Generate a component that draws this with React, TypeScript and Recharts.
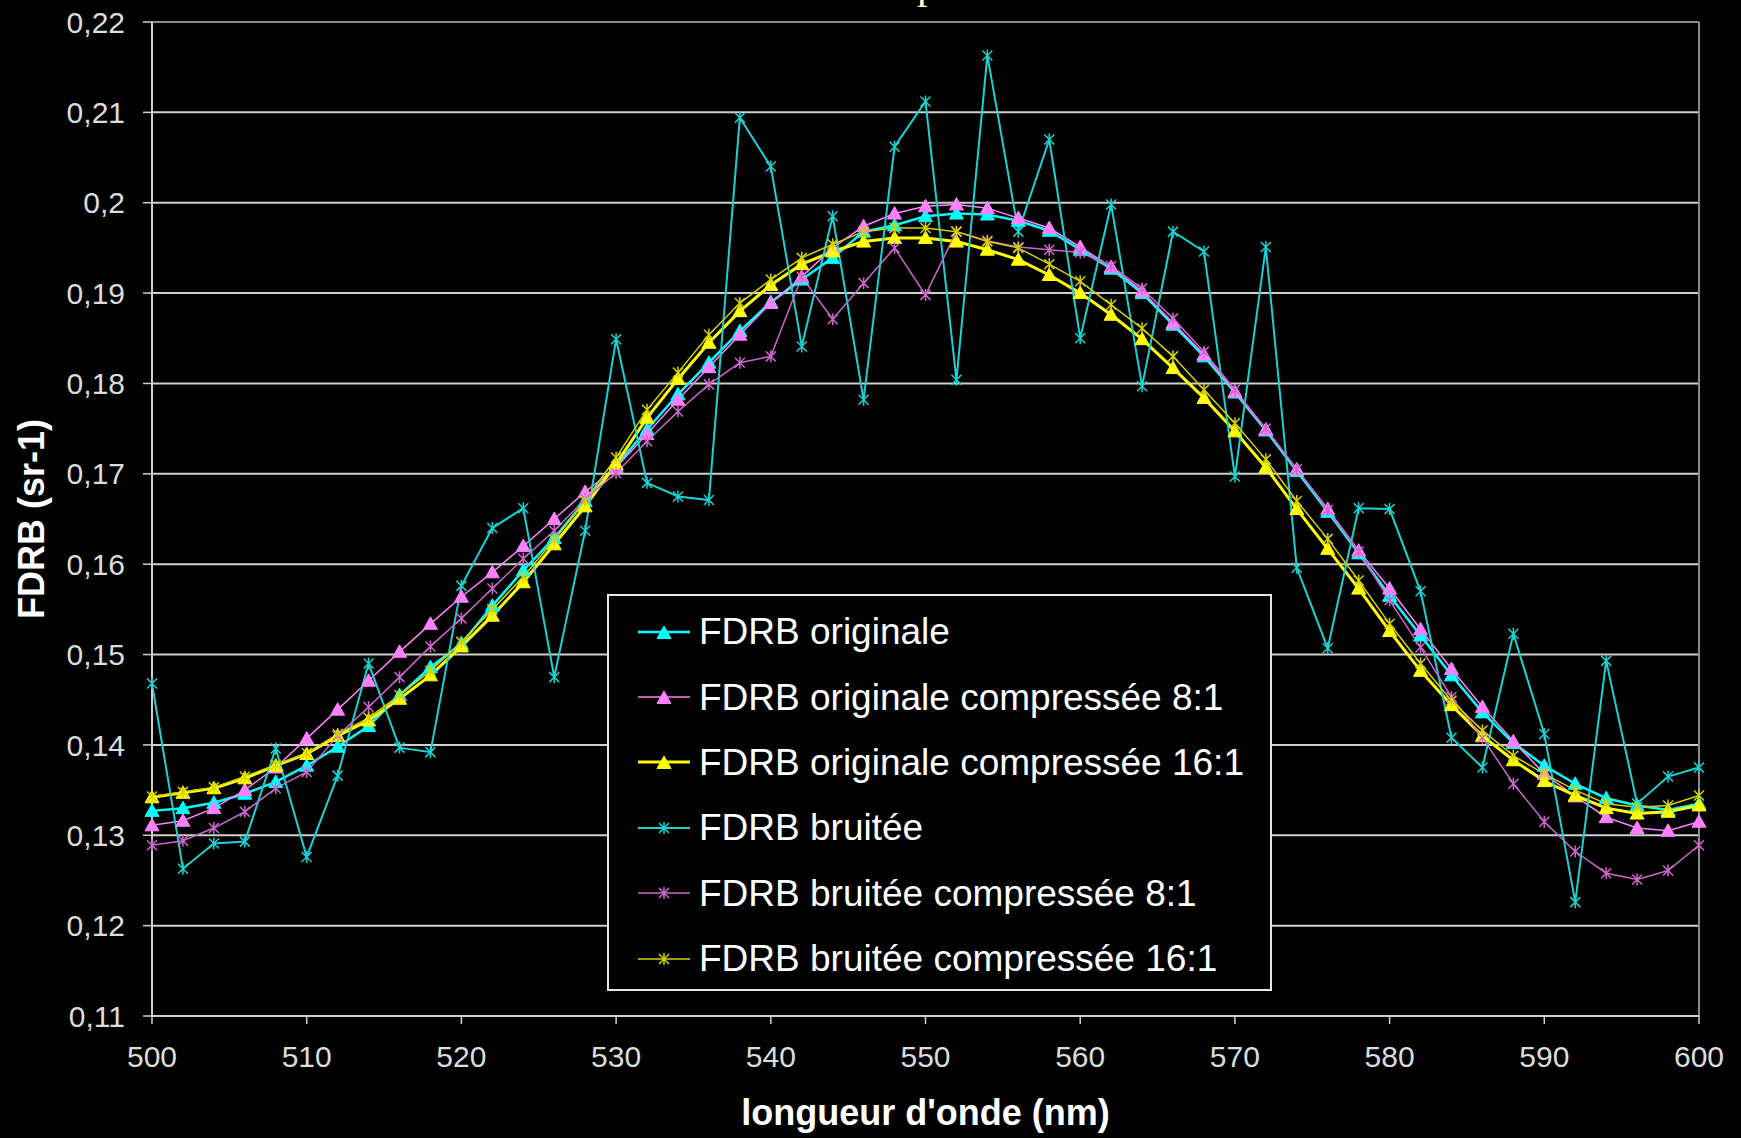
import {
  LineChart,
  Line,
  XAxis,
  YAxis,
  CartesianGrid,
  Legend,
  ReferenceLine,
  Label,
} from "recharts";

/* ===== DATA ===== */
const WAVELENGTH = [
  500, 502, 504, 506, 508, 510, 512, 514, 516, 518, 520, 522, 524, 526, 528,
  530, 532, 534, 536, 538, 540, 542, 544, 546, 548, 550, 552, 554, 556, 558,
  560, 562, 564, 566, 568, 570, 572, 574, 576, 578, 580, 582, 584, 586, 588,
  590, 592, 594, 596, 598, 600,
];

const FDRB_ORIG = [
  0.1327, 0.133, 0.1336, 0.1346, 0.1359, 0.1377, 0.1398, 0.1421, 0.1455, 0.1486,
  0.1512, 0.1554, 0.1593, 0.1629, 0.167, 0.1709, 0.1749, 0.1788, 0.1823, 0.1858,
  0.189, 0.1915, 0.1939, 0.1968, 0.1975, 0.1985, 0.1988, 0.1987, 0.198, 0.1969,
  0.1948, 0.1927, 0.19, 0.1865, 0.183, 0.179, 0.1748, 0.1703, 0.1658, 0.1612,
  0.1565, 0.1521, 0.1477, 0.1436, 0.1402, 0.1377, 0.1357, 0.1341, 0.1333, 0.1328,
  0.1335,
];

const FDRB_ORIG_8 = [
  0.1311, 0.1316, 0.133, 0.135, 0.1375, 0.1407, 0.1439, 0.1471, 0.1503, 0.1534,
  0.1564, 0.1591, 0.162, 0.165, 0.168, 0.1707, 0.1744, 0.1782, 0.1818, 0.1854,
  0.1889, 0.1918, 0.195, 0.1974, 0.1988, 0.1996, 0.1998, 0.1994, 0.1983, 0.1972,
  0.1951, 0.1929, 0.1902, 0.1867, 0.1832, 0.1791, 0.1749, 0.1705, 0.1661, 0.1615,
  0.1573, 0.1528, 0.1484, 0.1442, 0.1404, 0.1368, 0.1343, 0.132, 0.1308, 0.1305,
  0.1315,
];

const FDRB_ORIG_16 = [
  0.1342, 0.1347, 0.1352, 0.1363, 0.1377, 0.139, 0.141, 0.1427, 0.1451, 0.1477,
  0.1509, 0.1543, 0.158, 0.1622, 0.1664, 0.1711, 0.1762, 0.1805, 0.1845, 0.188,
  0.1909, 0.1932, 0.1946, 0.1957, 0.1961, 0.1961, 0.1957, 0.1948, 0.1937, 0.192,
  0.19, 0.1876, 0.1849, 0.1817, 0.1784, 0.1747, 0.1707, 0.1661, 0.1617, 0.1573,
  0.1526, 0.1482, 0.1444, 0.141, 0.1383, 0.136, 0.1344, 0.133, 0.1324, 0.1326,
  0.1333,
];

const FDRB_NOISY = [
  0.1468, 0.1263, 0.1291, 0.1293, 0.1396, 0.1276, 0.1366, 0.149, 0.1397, 0.1392,
  0.1576, 0.164, 0.1662, 0.1475, 0.1637, 0.1849, 0.169, 0.1675, 0.1671, 0.2094,
  0.204, 0.1841, 0.1985, 0.1782, 0.2062, 0.2112, 0.1804, 0.2163, 0.1968, 0.207,
  0.185, 0.1998, 0.1797, 0.1968, 0.1946, 0.1697, 0.1951, 0.1596, 0.1507, 0.1662,
  0.1661, 0.157, 0.1408, 0.1375, 0.1523, 0.1412, 0.1226, 0.1493, 0.1335, 0.1365,
  0.1375,
];

const FDRB_NOISY_8 = [
  0.1289, 0.1294, 0.1308, 0.1326, 0.1352, 0.137, 0.141, 0.1442, 0.1475, 0.1509,
  0.154, 0.1573, 0.1606, 0.1637, 0.1672, 0.1701, 0.1736, 0.1769, 0.1799, 0.1823,
  0.183, 0.1918, 0.1871, 0.1911, 0.195, 0.1898, 0.1968, 0.1958, 0.1951, 0.1948,
  0.1945, 0.193, 0.1905, 0.1872, 0.1835, 0.1793, 0.175, 0.1705, 0.166, 0.1614,
  0.156, 0.1508, 0.1453, 0.1408, 0.1357, 0.1315, 0.1282, 0.1258, 0.1251, 0.1261,
  0.1289,
];

const FDRB_NOISY_16 = [
  0.1343, 0.1348, 0.1353, 0.1365, 0.1378, 0.1391, 0.1412, 0.143, 0.1455, 0.1482,
  0.1514, 0.155, 0.1586, 0.1627, 0.167, 0.1718, 0.1771, 0.1812, 0.1854, 0.1889,
  0.1915, 0.1939, 0.1954, 0.1968, 0.1972, 0.1972, 0.1968, 0.1957, 0.195, 0.1932,
  0.1913, 0.1887, 0.1861, 0.183, 0.1793, 0.1756, 0.1716, 0.167, 0.1628, 0.1582,
  0.1534, 0.149, 0.1449, 0.1416, 0.1388, 0.1368, 0.135, 0.1335, 0.1331, 0.1333,
  0.1344,
];

const X_TICKS = [500, 510, 520, 530, 540, 550, 560, 570, 580, 590, 600];
const Y_TICKS = [0.11, 0.12, 0.13, 0.14, 0.15, 0.16, 0.17, 0.18, 0.19, 0.2, 0.21, 0.22];

const SERIES = [
  { key: "orig", name: "FDRB originale", values: FDRB_ORIG, color: "#00ffff", width: 2.5, marker: "triangle" },
  { key: "orig8", name: "FDRB originale compressée 8:1", values: FDRB_ORIG_8, color: "#ff80ff", width: 1.5, marker: "triangle" },
  { key: "orig16", name: "FDRB originale compressée 16:1", values: FDRB_ORIG_16, color: "#ffff00", width: 3, marker: "triangle" },
  { key: "noisy", name: "FDRB bruitée", values: FDRB_NOISY, color: "#19d2d2", width: 2, marker: "star" },
  { key: "noisy8", name: "FDRB bruitée compressée 8:1", values: FDRB_NOISY_8, color: "#cc66cc", width: 1.5, marker: "star" },
  { key: "noisy16", name: "FDRB bruitée compressée 16:1", values: FDRB_NOISY_16, color: "#d2d200", width: 1.5, marker: "star" },
];

const data = WAVELENGTH.map((x, i) => {
  const row: Record<string, number> = { x };
  SERIES.forEach((s) => {
    row[s.key] = s.values[i];
  });
  return row;
});

const FONT = "'Liberation Sans', Arial, sans-serif";

/* ===== markers ===== */
const markerPath = (marker: string, cx: number, cy: number) =>
  marker === "triangle"
    ? `M${cx},${cy - 7}L${cx + 7},${cy + 5.5}L${cx - 7},${cy + 5.5}Z`
    : `M${cx - 5},${cy - 5}L${cx + 5},${cy + 5}M${cx - 5},${cy + 5}L${cx + 5},${cy - 5}M${cx},${cy - 6}L${cx},${cy + 6}`;

const makeDot = (marker: string, color: string) => (props: any) => {
  const { cx, cy, index } = props;
  if (cx == null || cy == null) return <g key={index} />;
  return marker === "triangle" ? (
    <path key={index} d={markerPath(marker, cx, cy)} fill={color} stroke={color} strokeWidth={1} />
  ) : (
    <path key={index} d={markerPath(marker, cx, cy)} fill="none" stroke={color} strokeWidth={1.5} />
  );
};

/* ===== legend ===== */
const renderLegend = () => (
  <div
    style={{
      width: 665,
      height: 397,
      boxSizing: "border-box",
      border: "2px solid #e6e6e6",
      background: "#000",
      paddingTop: 3,
    }}
  >
    {SERIES.map((s) => (
      <div key={s.key} style={{ height: 65.4, display: "flex", alignItems: "center" }}>
        <svg width={52} height={20} style={{ marginLeft: 29, flex: "none" }}>
          <line x1={0} y1={10} x2={52} y2={10} stroke={s.color} strokeWidth={s.width} />
          {s.marker === "triangle" ? (
            <path d={markerPath(s.marker, 26, 11)} fill={s.color} stroke={s.color} />
          ) : (
            <path d={markerPath(s.marker, 26, 10)} fill="none" stroke={s.color} strokeWidth={1.5} />
          )}
        </svg>
        <span
          style={{
            marginLeft: 9,
            color: "#ffffff",
            fontFamily: FONT,
            fontSize: 37,
            whiteSpace: "nowrap",
            lineHeight: 1,
          }}
        >
          {s.name}
        </span>
      </div>
    ))}
  </div>
);

const fmtY = (v: number) => String(Math.round(v * 100) / 100).replace(".", ",");

export default function App() {
  return (
    <div
      style={{
        position: "fixed",
        left: 0,
        top: 0,
        width: 1741,
        height: 1138,
        background: "#000",
        overflow: "hidden",
      }}
    >
      {/* title, cut off at the top of the picture */}
      <div
        style={{
          position: "absolute",
          left: 917,
          top: -37,
          fontFamily: "'Liberation Serif', 'Times New Roman', serif",
          fontSize: 42,
          lineHeight: 1,
          color: "#ffffc8",
        }}
      >
        p
      </div>

      <LineChart
        width={1741}
        height={1138}
        data={data}
        margin={{ top: 22, right: 42, bottom: 0, left: 0 }}
      >
        <CartesianGrid vertical={false} stroke="#cfcfcf" strokeWidth={2} />
        <XAxis
          dataKey="x"
          type="number"
          domain={[500, 600]}
          ticks={X_TICKS}
          interval={0}
          height={122}
          tickSize={8}
          tickMargin={22}
          axisLine={{ stroke: "#cfcfcf", strokeWidth: 2 }}
          tickLine={{ stroke: "#cfcfcf", strokeWidth: 1.5 }}
          tick={{ fill: "#dcdcdc", fontSize: 30, fontFamily: FONT }}
        >
          <Label
            content={({ viewBox }: any) => (
              <text
                x={viewBox.x + viewBox.width / 2}
                y={1125}
                textAnchor="middle"
                fill="#ffffff"
                fontFamily={FONT}
                fontSize={36}
                fontWeight="bold"
              >
                longueur d'onde (nm)
              </text>
            )}
          />
        </XAxis>
        <YAxis
          type="number"
          domain={[0.11, 0.22]}
          ticks={Y_TICKS}
          interval={0}
          width={152}
          tickSize={9}
          tickMargin={18}
          tickFormatter={fmtY}
          axisLine={{ stroke: "#cfcfcf", strokeWidth: 2 }}
          tickLine={{ stroke: "#cfcfcf", strokeWidth: 1.5 }}
          tick={{ fill: "#dcdcdc", fontSize: 30, fontFamily: FONT }}
        >
          <Label
            content={({ viewBox }: any) => {
              const cy = viewBox.y + viewBox.height / 2;
              return (
                <text
                  x={44}
                  y={cy}
                  transform={`rotate(-90, 44, ${cy})`}
                  textAnchor="middle"
                  fill="#ffffff"
                  fontFamily={FONT}
                  fontSize={36}
                  fontWeight="bold"
                >
                  FDRB (sr-1)
                </text>
              );
            }}
          />
        </YAxis>
        <ReferenceLine y={0.22} stroke="#8a8a8a" strokeWidth={2} />
        <ReferenceLine x={600} stroke="#8a8a8a" strokeWidth={2} />

        {SERIES.map((s) => (
          <Line
            key={s.key}
            type="linear"
            dataKey={s.key}
            name={s.name}
            stroke={s.color}
            strokeWidth={s.width}
            dot={makeDot(s.marker, s.color)}
            activeDot={false}
            isAnimationActive={false}
          />
        ))}

        <Legend
          layout="vertical"
          align="center"
          verticalAlign="middle"
          content={renderLegend}
          wrapperStyle={{ left: 607, top: 594, width: 665, height: 397 }}
        />
      </LineChart>
    </div>
  );
}
